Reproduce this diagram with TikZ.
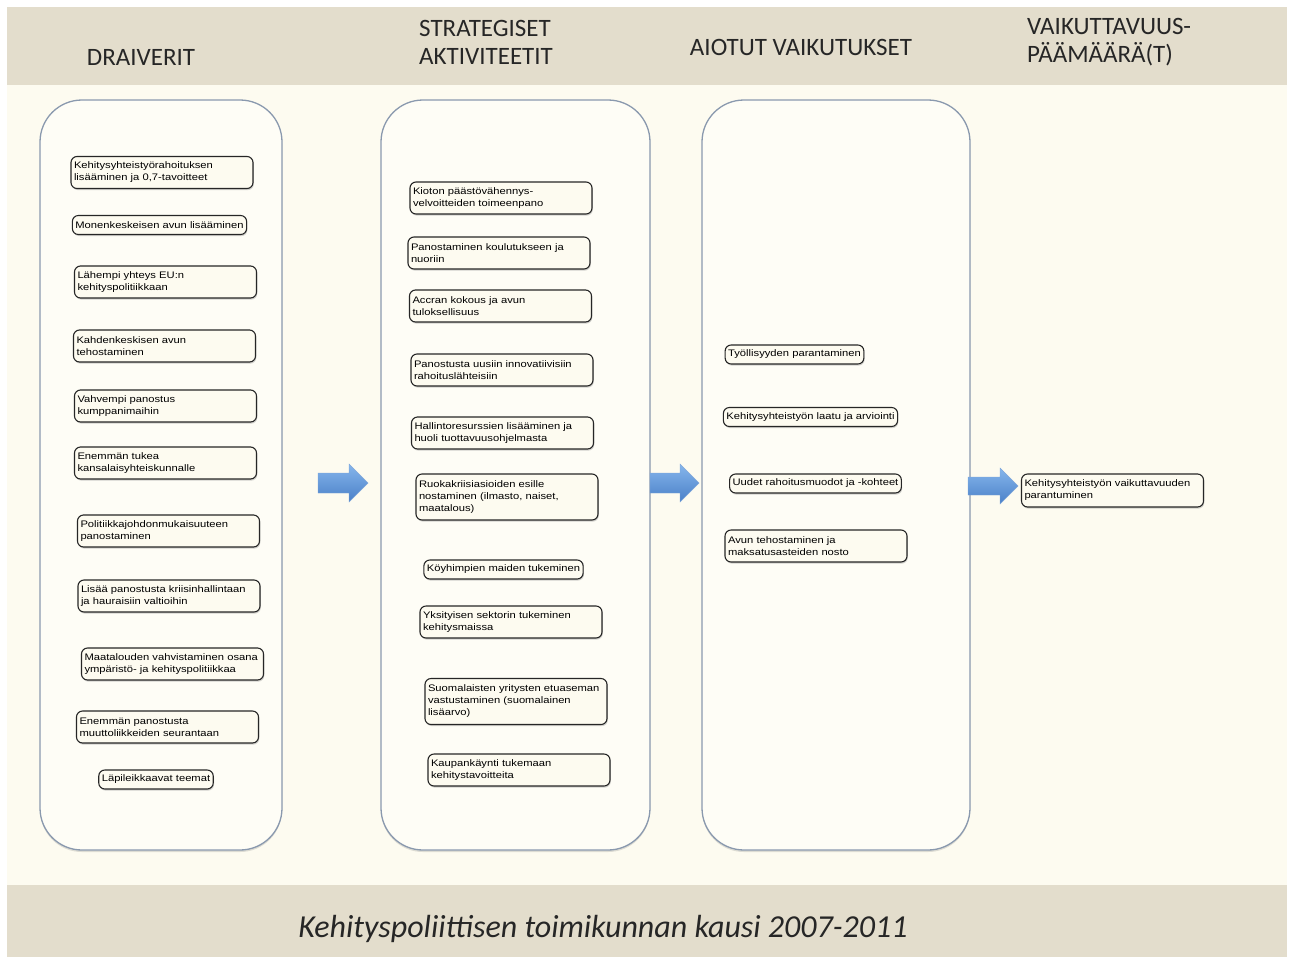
\documentclass[tikz,border=0pt]{standalone}
\usepackage{fontspec}
\setmainfont{Carlito}
\newfontfamily\boxfont[FakeStretch=1.18]{Liberation Sans}
\usetikzlibrary{shadows}
\definecolor{band}{HTML}{E3DDCC}
\definecolor{cream}{HTML}{FDFBF0}
\definecolor{colframe}{HTML}{8A99AE}
\definecolor{arrowlight}{HTML}{86B6EC}
\definecolor{arrowdark}{HTML}{4A80C8}
\tikzset{
  colbox/.style={draw=colframe, line width=1.3pt, fill=white!40!cream, rounded corners=42pt,
    drop shadow={opacity=0.25, shadow xshift=0pt, shadow yshift=-2pt}},
  sbox/.style={draw=black!85, line width=1.1pt, rounded corners=6pt, fill=cream,
    font=\boxfont\fontsize{9.5}{12}\selectfont, align=left, inner xsep=3pt, inner ysep=2pt,
    drop shadow={opacity=0.35, shadow xshift=0.8pt, shadow yshift=-1.6pt}},
  wbox/.style={sbox, text width=176pt},
  hdr/.style={font=\fontsize{25}{28}\selectfont, text=black!85, align=left, inner sep=0pt},
  barrow/.style={top color=arrowlight, bottom color=arrowdark, draw=arrowdark!70, line width=0.4pt}
}
\begin{document}
\begin{tikzpicture}[x=1pt,y=-1pt]
\useasboundingbox (0,0) rectangle (1293,959);
\fill[white] (0,0) rectangle (1293,959);
% bands
\fill[band] (7,7) rectangle (1287,85);
\fill[cream] (7,85) rectangle (1287,885);
\fill[band] (7,885) rectangle (1287,957);

% headers
\node[hdr] (h1) at (141,57) {DRAIVERIT};
\node[hdr, anchor=west] (h2) at (419,42) {STRATEGISET\\AKTIVITEETIT};
\node[hdr] (h3) at (801,47) {AIOTUT VAIKUTUKSET};
\node[hdr, anchor=west] (h4) at (1027,42) {VAIKUTTAVUUS-\\PÄÄMÄÄRÄ(T)};

% footer
\node[font=\fontsize{32}{34}\selectfont\itshape, text=black!85] (foot) at (603,929) {Kehityspoliittisen toimikunnan kausi 2007-2011};

% columns
\draw[colbox] (40,100) rectangle (282,850);
\draw[colbox] (381,100) rectangle (650,850);
\draw[colbox] (702,100) rectangle (970,850);

% block arrows
\draw[barrow] (318,473) -- (349,473) -- (349,464) -- (368,483) -- (349,502) -- (349,493) -- (318,493) -- cycle;
\draw[barrow] (650,473) -- (680,473) -- (680,464) -- (699,483) -- (680,502) -- (680,493) -- (650,493) -- cycle;
\draw[barrow] (968,477) -- (1000,477) -- (1000,468) -- (1018,486) -- (1000,504) -- (1000,495) -- (968,495) -- cycle;

% column 1
\node[wbox, minimum height=32pt] (d1) at (162,172.5) {Kehitysyhteistyörahoituksen\\lisääminen ja 0,7-tavoitteet};
\node[sbox, minimum height=19pt] (d2) at (159.5,225) {Monenkeskeisen avun lisääminen};
\node[wbox, minimum height=32pt] (d3) at (165.5,282) {Lähempi yhteys EU:n\\kehityspolitiikkaan};
\node[wbox, minimum height=32pt] (d4) at (164.5,346) {Kahdenkeskisen avun\\tehostaminen};
\node[wbox, minimum height=32pt] (d5) at (165.5,406) {Vahvempi panostus\\kumppanimaihin};
\node[wbox, minimum height=32pt] (d6) at (165.5,463) {Enemmän tukea\\kansalaisyhteiskunnalle};
\node[wbox, minimum height=32pt] (d7) at (168.5,531) {Politiikkajohdonmukaisuuteen\\panostaminen};
\node[wbox, minimum height=32pt] (d8) at (169,596) {Lisää panostusta kriisinhallintaan\\ja hauraisiin valtioihin};
\node[wbox, minimum height=32pt] (d9) at (172.5,664) {Maatalouden vahvistaminen osana\\ympäristö- ja kehityspolitiikkaa};
\node[wbox, minimum height=32pt] (d10) at (167.5,727) {Enemmän panostusta\\muuttoliikkeiden seurantaan};
\node[sbox, minimum height=19pt] (d11) at (156,779.5) {Läpileikkaavat teemat};

% column 2
\node[wbox, minimum height=32pt] (s1) at (501,198) {Kioton päästövähennys-\\velvoitteiden toimeenpano};
\node[wbox, minimum height=32pt] (s2) at (499,253) {Panostaminen koulutukseen ja\\nuoriin};
\node[wbox, minimum height=32pt] (s3) at (500.5,306) {Accran kokous ja avun\\tuloksellisuus};
\node[wbox, minimum height=32pt] (s4) at (502,370) {Panostusta uusiin innovatiivisiin\\rahoituslähteisiin};
\node[wbox, minimum height=32pt] (s5) at (502.5,433) {Hallintoresurssien lisääminen ja\\huoli tuottavuusohjelmasta};
\node[wbox, minimum height=46pt] (s6) at (507,497) {Ruokakriisiasioiden esille\\nostaminen (ilmasto, naiset,\\maatalous)};
\node[sbox, minimum height=19pt] (s7) at (503.5,569.5) {Köyhimpien maiden tukeminen};
\node[wbox, minimum height=32pt] (s8) at (511,622) {Yksityisen sektorin tukeminen\\kehitysmaissa};
\node[wbox, minimum height=46pt] (s9) at (516,701.5) {Suomalaisten yritysten etuaseman\\vastustaminen (suomalainen\\lisäarvo)};
\node[wbox, minimum height=32pt] (s10) at (519,770) {Kaupankäynti tukemaan\\kehitystavoitteita};

% column 3
\node[sbox, minimum height=19pt] (v1) at (794.5,354.5) {Työllisyyden parantaminen};
\node[sbox, minimum height=19pt] (v2) at (810.5,417) {Kehitysyhteistyön laatu ja arviointi};
\node[sbox, minimum height=19pt] (v3) at (815.5,483.5) {Uudet rahoitusmuodot ja -kohteet};
\node[wbox, minimum height=32pt] (v4) at (816,546) {Avun tehostaminen ja\\maksatusasteiden nosto};

% column 4
\node[wbox, minimum height=33pt] (p1) at (1112.5,490.5) {Kehitysyhteistyön vaikuttavuuden\\parantuminen};
\end{tikzpicture}
\end{document}
